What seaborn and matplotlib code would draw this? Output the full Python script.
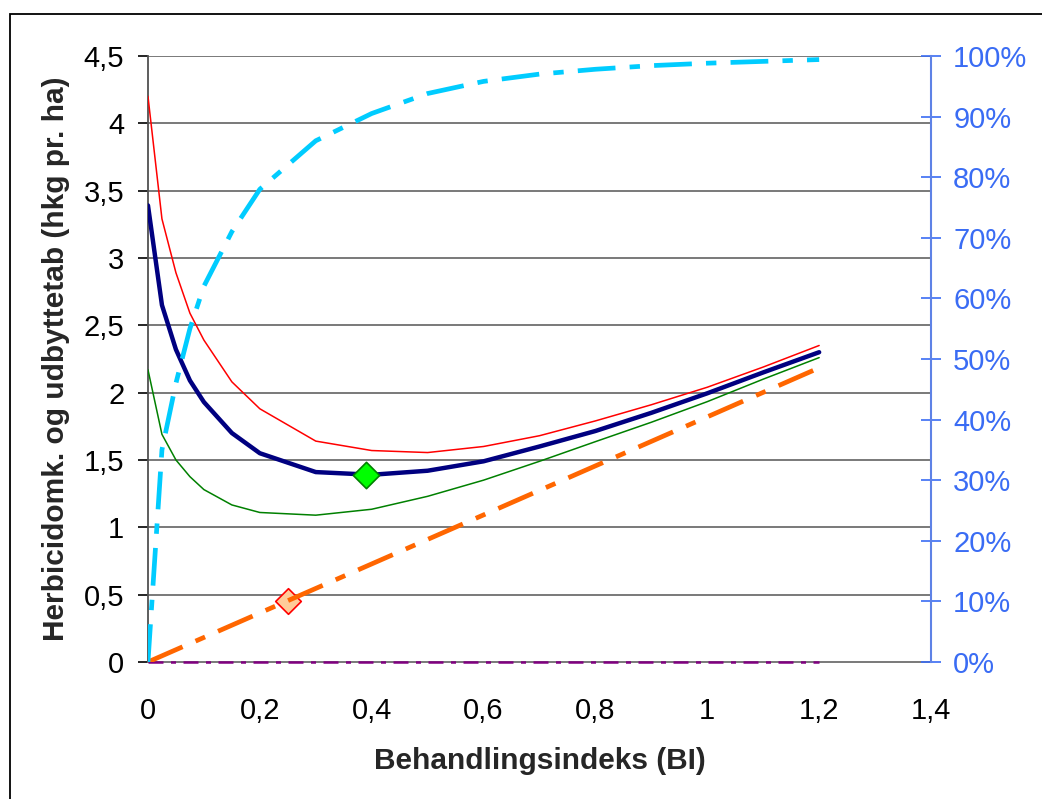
import matplotlib
matplotlib.use("Agg")
import matplotlib.pyplot as plt
import seaborn as sns
import numpy as np
from matplotlib.ticker import FuncFormatter, MultipleLocator
from matplotlib.patches import Rectangle

# behandlingsindeks (BI)
bi = [0, 0.025, 0.05, 0.075, 0.1, 0.15, 0.2, 0.3, 0.4, 0.5, 0.6, 0.7, 0.8, 0.9, 1.0, 1.1, 1.2]

# hkg pr. ha
total_mid = [3.39, 2.65, 2.32, 2.09, 1.93, 1.70, 1.55, 1.41, 1.39, 1.42, 1.49, 1.60, 1.715, 1.85, 1.995, 2.15, 2.30]
total_high = [4.20, 3.29, 2.89, 2.59, 2.39, 2.08, 1.88, 1.64, 1.57, 1.555, 1.60, 1.68, 1.79, 1.91, 2.04, 2.19, 2.35]
total_low = [2.17, 1.69, 1.50, 1.376, 1.28, 1.166, 1.11, 1.09, 1.134, 1.23, 1.35, 1.49, 1.636, 1.78, 1.933, 2.10, 2.26]

# herbicidomkostning (lige linje)
bi_cost = [0, 0.2, 0.4, 0.6, 0.8, 1.0, 1.2]
cost = [0, 0.364, 0.728, 1.092, 1.456, 1.82, 2.184]
zero_line = [0, 0, 0, 0, 0, 0, 0]

# effekt i procent (hoejre akse)
effect = [0.0, 0.35, 0.46, 0.55, 0.62, 0.71, 0.78, 0.86, 0.905, 0.938, 0.958, 0.97, 0.978, 0.984, 0.988, 0.991, 0.994]

opt_x, opt_y = [0.39], [1.39]
dose_x, dose_y = [0.25], [0.45]

x_ticks = [0, 0.2, 0.4, 0.6, 0.8, 1.0, 1.2, 1.4]
y_ticks = [0, 0.5, 1, 1.5, 2, 2.5, 3, 3.5, 4, 4.5]

sns.set_style("white")
plt.rcParams['font.family'] = ['Liberation Sans', 'DejaVu Sans']

fig = plt.figure(figsize=(10.42, 7.99), dpi=100)
ax = fig.add_axes([0.142, 0.1715, 0.7515, 0.7585])

# figure border (chart area)
fig.patches.append(Rectangle((10 / 1042, -0.05), 1.2, 1.05 - 14 / 799, transform=fig.transFigure,
                             fill=False, edgecolor="black", lw=1.3, zorder=0))

for yv in y_ticks[1:]:
    ax.axhline(yv, color="#6e6e6e", lw=1.3, zorder=1)

sns.lineplot(x=bi_cost, y=zero_line, ax=ax, color="#800080", lw=1.8, zorder=4, clip_on=False)
ax.lines[-1].set_dashes([6, 3, 2, 3])

sns.scatterplot(x=dose_x, y=dose_y, ax=ax, marker="D", s=170, color="#FFCC99",
                edgecolor="red", linewidth=1.2, zorder=4)

sns.lineplot(x=bi_cost, y=cost, ax=ax, color="#FF6600", lw=3.4, zorder=5)
ax.lines[-1].set_dashes([8, 3, 2.2, 3])

sns.lineplot(x=bi, y=total_low, ax=ax, color="#008000", lw=1.1, zorder=6)
sns.lineplot(x=bi, y=total_high, ax=ax, color="#FF0000", lw=1.1, zorder=6)
sns.lineplot(x=bi, y=total_mid, ax=ax, color="#000080", lw=3.2, zorder=7)

sns.scatterplot(x=opt_x, y=opt_y, ax=ax, marker="D", s=180, color="#00FF00",
                edgecolor="#008000", linewidth=1.2, zorder=8)

ax.set_xlim(0, 1.4)
ax.set_ylim(0, 4.5)
ax.set_xticks(x_ticks)
ax.set_yticks(y_ticks)
comma = FuncFormatter(lambda v, p: ("%g" % round(v, 2)).replace(".", ","))
ax.xaxis.set_major_formatter(comma)
ax.yaxis.set_major_formatter(comma)
ax.tick_params(axis="both", labelsize=21, colors="black", direction="out", length=7, width=1.2)
ax.tick_params(axis="x", pad=18)
ax.tick_params(axis="y", pad=10)
for t in ax.get_xticklines() + ax.get_yticklines():
    t.set_color("#404040")

ax.spines["top"].set_visible(False)
ax.spines["left"].set_color("#505050")
ax.spines["bottom"].set_color("#6e6e6e")
ax.spines["left"].set_linewidth(1.3)
ax.spines["bottom"].set_linewidth(1.3)
ax.spines["right"].set_visible(False)

ax.set_xlabel("Behandlingsindeks (BI)", fontsize=21.5, fontweight="bold", labelpad=16)
ax.set_ylabel("Herbicidomk. og udbyttetab (hkg pr. ha)", fontsize=21.5, fontweight="bold", labelpad=10)

ax2 = ax.twinx()
sns.lineplot(x=bi, y=effect, ax=ax2, color="#00CCFF", lw=3.4, zorder=5)
ax2.lines[-1].set_dashes([8, 3, 2.2, 3])
ax2.set_ylim(0, 1)
ax2.yaxis.set_major_locator(MultipleLocator(0.1))
ax2.yaxis.set_major_formatter(FuncFormatter(lambda v, p: "%d%%" % round(v * 100)))
ax2.tick_params(axis="y", labelsize=21, colors="#3A6CF4", direction="inout", length=14, width=1.2, pad=9)
ax2.set_ylabel("")
for side in ["top", "left", "bottom"]:
    ax2.spines[side].set_visible(False)
ax2.spines["right"].set_color("#5E82E6")
ax2.spines["right"].set_linewidth(1.5)
ax2.grid(False)
ax.grid(False)

fig.savefig("out.png", dpi=100)
